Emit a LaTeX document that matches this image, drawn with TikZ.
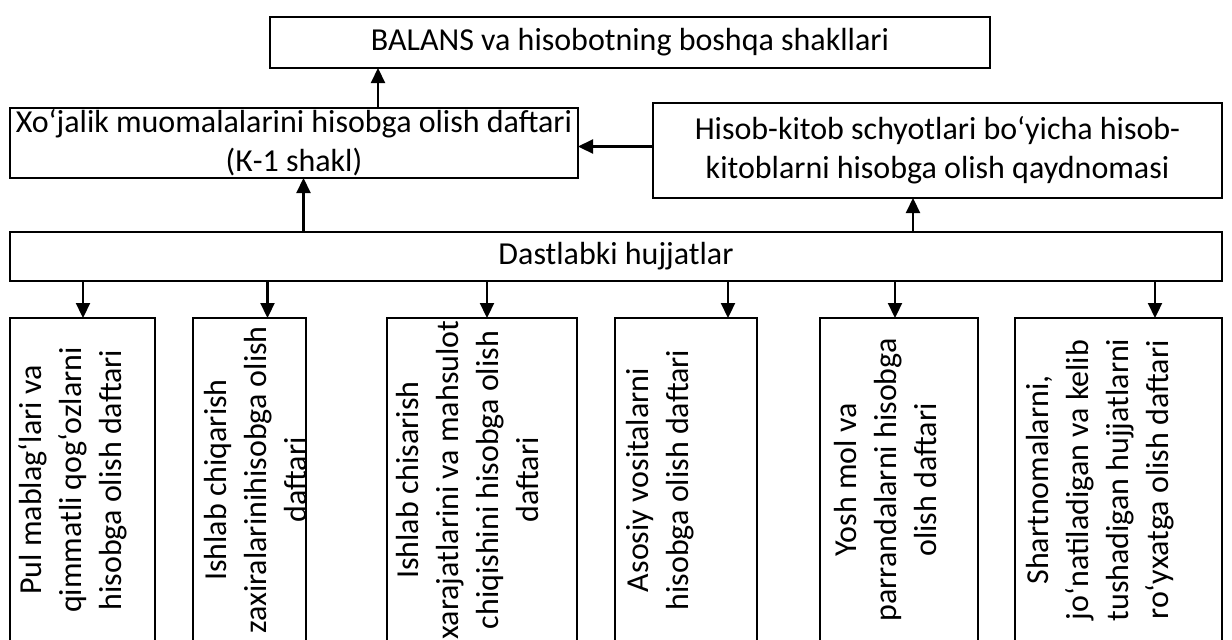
\documentclass[tikz,border=0pt]{standalone}
\usepackage{fontspec}
\setmainfont{Carlito}
\usetikzlibrary{arrows.meta}
\begin{document}
\begin{tikzpicture}[x=0.5pt,y=-0.5pt,
  box/.style={draw, line width=1.15pt, inner sep=0pt, outer sep=0pt, font=\fontsize{16pt}{19.5pt}\selectfont, align=center},
  vbox/.style={draw, line width=1.15pt, inner sep=0pt, outer sep=0pt, minimum height=162pt},
  vtext/.style={inner sep=0pt, rotate=90, font=\fontsize{16pt}{20pt}\selectfont, align=center},
  arr/.style={line width=1.1pt, -{Triangle[length=7.5pt,width=7pt]}}]
\clip (0,0) rectangle (1232,639);
\fill[white] (0,0) rectangle (1232,639);
% main boxes
\node[box, minimum width=360pt, minimum height=25.5pt] (top) at (630,42.5) {BALANS va hisobotning boshqa shakllari};
\node[box, minimum width=284pt, minimum height=35pt] (xo) at (294,143) {Xo‘jalik muomalalarini hisobga olish daftari\\(К-1 shakl)};
\node[box, minimum width=284.5pt, minimum height=47.5pt] (hisob) at (937.5,150.5) {Hisob-kitob schyotlari bo‘yicha hisob-\\kitoblarni hisobga olish qaydnomasi};
\node[box, minimum width=606pt, minimum height=24.5pt] (dast) at (616,256.5) {Dastlabki hujjatlar};
% lower boxes
\node[vbox, minimum width=72.5pt] (b1) at (82.5,480) {};
\node[vbox, minimum width=56.5pt] (b2) at (249.5,480) {};
\node[vbox, minimum width=95pt] (b3) at (482,480) {};
\node[vbox, minimum width=71pt] (b4) at (686,480) {};
\node[vbox, minimum width=79pt] (b5) at (899,480) {};
\node[vbox, minimum width=103.5pt] (b6) at (1118.5,480) {};
\node[vtext] (t1) at (73,480) {Pul mablag‘lari va\\qimmatli qog‘ozlarni\\hisobga olish daftari};
\node[vtext] (t2) at (256,480) {Ishlab chiqarish\\zaxiralarinihisobga olish\\daftari};
\node[vtext] (t3) at (468,480) {Ishlab chisarish\\xarajatlarini va mahsulot\\chiqishini hisobga olish\\daftari};
\node[vtext] (t4) at (660,480) {Asosiy vositalarni\\hisobga olish daftari};
\node[vtext] (t5) at (885,480) {Yosh mol va\\parrandalarni hisobga\\olish daftari};
\node[vtext] (t6) at (1100,480) {Shartnomalarni,\\jo‘natiladigan va kelib\\tushadigan hujjatlarni\\ro‘yxatga olish daftari};
% connector coordinates
\coordinate (c1) at (378,0);
\coordinate (c2) at (0,146.5);
\coordinate (c3) at (303.5,0);
\coordinate (c4) at (913,0);
\coordinate (d1) at (83,0);
\coordinate (d2) at (267.5,0);
\coordinate (d3) at (487,0);
\coordinate (d4) at (728,0);
\coordinate (d5) at (895,0);
\coordinate (d6) at (1155,0);
% connectors
\draw[arr] (xo.north -| c1) -- (top.south -| c1);
\draw[arr] (hisob.west |- c2) -- (xo.east |- c2);
\draw[arr] (dast.north -| c3) -- (xo.south -| c3);
\draw[arr] (dast.north -| c4) -- (hisob.south -| c4);
\draw[arr] (dast.south -| d1) -- (b1.north -| d1);
\draw[arr] (dast.south -| d2) -- (b2.north -| d2);
\draw[arr] (dast.south -| d3) -- (b3.north -| d3);
\draw[arr] (dast.south -| d4) -- (b4.north -| d4);
\draw[arr] (dast.south -| d5) -- (b5.north -| d5);
\draw[arr] (dast.south -| d6) -- (b6.north -| d6);
\end{tikzpicture}
\end{document}
